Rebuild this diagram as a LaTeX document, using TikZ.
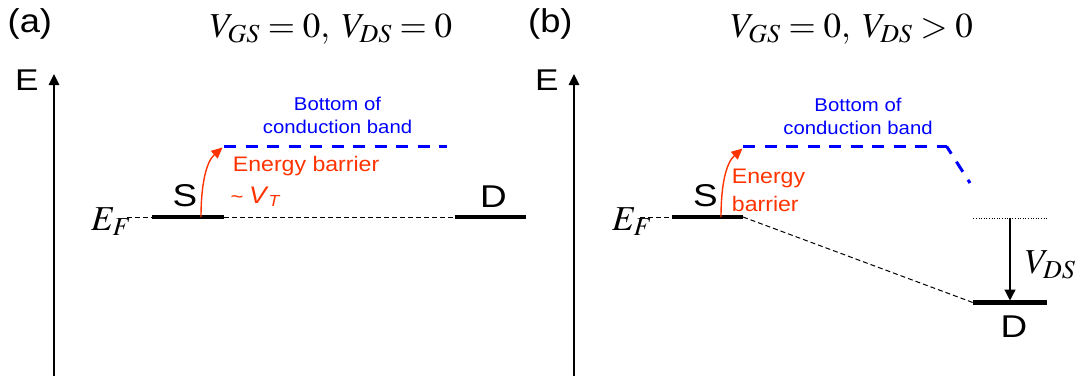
\documentclass[tikz,border=0pt]{standalone}
\usepackage{mathptmx}
\usepackage[no-math]{fontspec}
\setmainfont{Liberation Sans}
\usetikzlibrary{arrows.meta}
\definecolor{cbblue}{RGB}{0,0,255}
\definecolor{ebred}{RGB}{255,51,0}
\tikzset{
  axisline/.style={line width=1.4pt,-{Triangle[length=11pt,width=10.5pt]}},
  levelbar/.style={line width=4.5pt},
  cband/.style={cbblue,line width=3pt,dash pattern=on 12pt off 9.5pt},
  fermi/.style={line width=1pt,dash pattern=on 5pt off 3pt},
  dotline/.style={line width=0.8pt,dash pattern=on 1pt off 1.6pt},
  barrow/.style={ebred,line width=1.4pt,-{Triangle[length=11pt,width=10pt]}},
  vdsarrow/.style={line width=1.2pt,-{Triangle[length=11pt,width=11pt]}},
  txt/.style={inner sep=0pt,xscale=1.1},
  bigtxt/.style={inner sep=0pt,xscale=1.17},
  panellbl/.style={inner sep=0pt,xscale=1.1,font=\fontsize{33}{38}\selectfont,anchor=base west},
  elbl/.style={bigtxt,font=\fontsize{30}{34}\selectfont,anchor=base west},
  sdlbl/.style={bigtxt,font=\fontsize{31.5}{36}\selectfont,anchor=base},
  bluelbl/.style={txt,cbblue,font=\fontsize{18.5}{22}\selectfont,anchor=base},
  redlbl/.style={txt,ebred,font=\fontsize{21}{25}\selectfont,anchor=base west},
  mathlbl/.style={inner sep=0pt,font=\fontsize{35}{40}\selectfont},
}
\begin{document}
\begin{tikzpicture}[x=1pt,y=-1pt]
\useasboundingbox (0,0) rectangle (1083,376);
% ---------------- panel (a) ----------------
\node[panellbl] (pa) at (7.5,32) {(a)};
\node[elbl] (Ea) at (15,90) {E};
\coordinate (axa0) at (54,376);
\coordinate (axa1) at (54,74);
\draw[axisline] (axa0) -- (axa1);
\node[mathlbl,anchor=base] (ta) at (331,37) {$V_{GS}=0,\;V_{DS}=0$};
\node[mathlbl,anchor=base west] (EFa) at (91,230) {$E_F$};
\coordinate (fa0) at (127,217);
\coordinate (Sa0) at (151.7,217);
\coordinate (Sa1) at (224,217);
\coordinate (Da0) at (454.6,217);
\coordinate (Da1) at (526.2,217);
\draw[fermi] (fa0) -- (Sa0);
\draw[fermi] (Sa1) -- (Da0);
\draw[levelbar] (Sa0) -- (Sa1);
\draw[levelbar] (Da0) -- (Da1);
\node[sdlbl] (Sa) at (185,206) {S};
\node[sdlbl] (Da) at (493.5,207) {D};
\coordinate (ca0) at (224,146.5);
\coordinate (ca1) at (447,146.5);
\draw[cband] (ca0) -- (ca1);
\node[bluelbl] (ba1) at (337.5,110) {Bottom of};
\node[bluelbl] (ba2) at (337.5,133) {conduction band};
\coordinate (ra0) at (201,217);
\coordinate (ra1) at (222.5,147.5);
\draw[barrow] (ra0) .. controls (201,185) and (206,162) .. (ra1);
\node[redlbl] (eba1) at (232.7,171.7) {Energy barrier};
\node[redlbl] (eba2) at (230.5,203.3) {{\fontsize{20}{22}\selectfont\textasciitilde}\kern5pt{\fontsize{24}{28}\selectfont\textit{V}}\raisebox{-3.4pt}{\fontsize{16}{18}\selectfont\textit{T}}};
% ---------------- panel (b) ----------------
\node[panellbl] (pb) at (528,32) {(b)};
\node[elbl] (Eb) at (535,90) {E};
\coordinate (axb0) at (574,376);
\coordinate (axb1) at (574,74);
\draw[axisline] (axb0) -- (axb1);
\node[mathlbl,anchor=base] (tb) at (851.7,37) {$V_{GS}=0,\;V_{DS}>0$};
\node[mathlbl,anchor=base west] (EFb) at (612,230) {$E_F$};
\coordinate (fb0) at (640,217);
\coordinate (Sb0) at (671.7,217);
\coordinate (Sb1) at (743,217);
\coordinate (Db0) at (973.3,302.7);
\coordinate (Db1) at (1046.7,302.7);
\draw[fermi] (fb0) -- (Sb0);
\draw[fermi] (Sb1) -- (Db0);
\draw[levelbar] (Sb0) -- (Sb1);
\draw[levelbar] (Db0) -- (Db1);
\node[sdlbl] (Sb) at (705.5,206) {S};
\node[sdlbl] (Db) at (1014,337) {D};
\coordinate (cb0) at (743,146.5);
\coordinate (cb1) at (946.7,146.5);
\coordinate (cb2) at (970,183);
\draw[cband] (cb0) -- (cb1);
\draw[cband,dash phase=3.5pt] (cb1) -- (cb2);
\node[bluelbl] (bb1) at (858,111) {Bottom of};
\node[bluelbl] (bb2) at (858,134) {conduction band};
\coordinate (rb0) at (721,217);
\coordinate (rb1) at (742.5,148.5);
\draw[barrow] (rb0) .. controls (721,185) and (726,163) .. (rb1);
\node[redlbl] (ebb1) at (731.7,183) {Energy};
\node[redlbl] (ebb2) at (731.7,211.7) {barrier};
\coordinate (dl0) at (973.3,218.3);
\coordinate (dl1) at (1046.7,218.3);
\draw[dotline] (dl0) -- (dl1);
\coordinate (va0) at (1010,218.3);
\coordinate (va1) at (1010,300.5);
\draw[vdsarrow] (va0) -- (va1);
\node[mathlbl,anchor=base west] (vds) at (1025,273.3) {$V_{DS}$};
\end{tikzpicture}
\end{document}
